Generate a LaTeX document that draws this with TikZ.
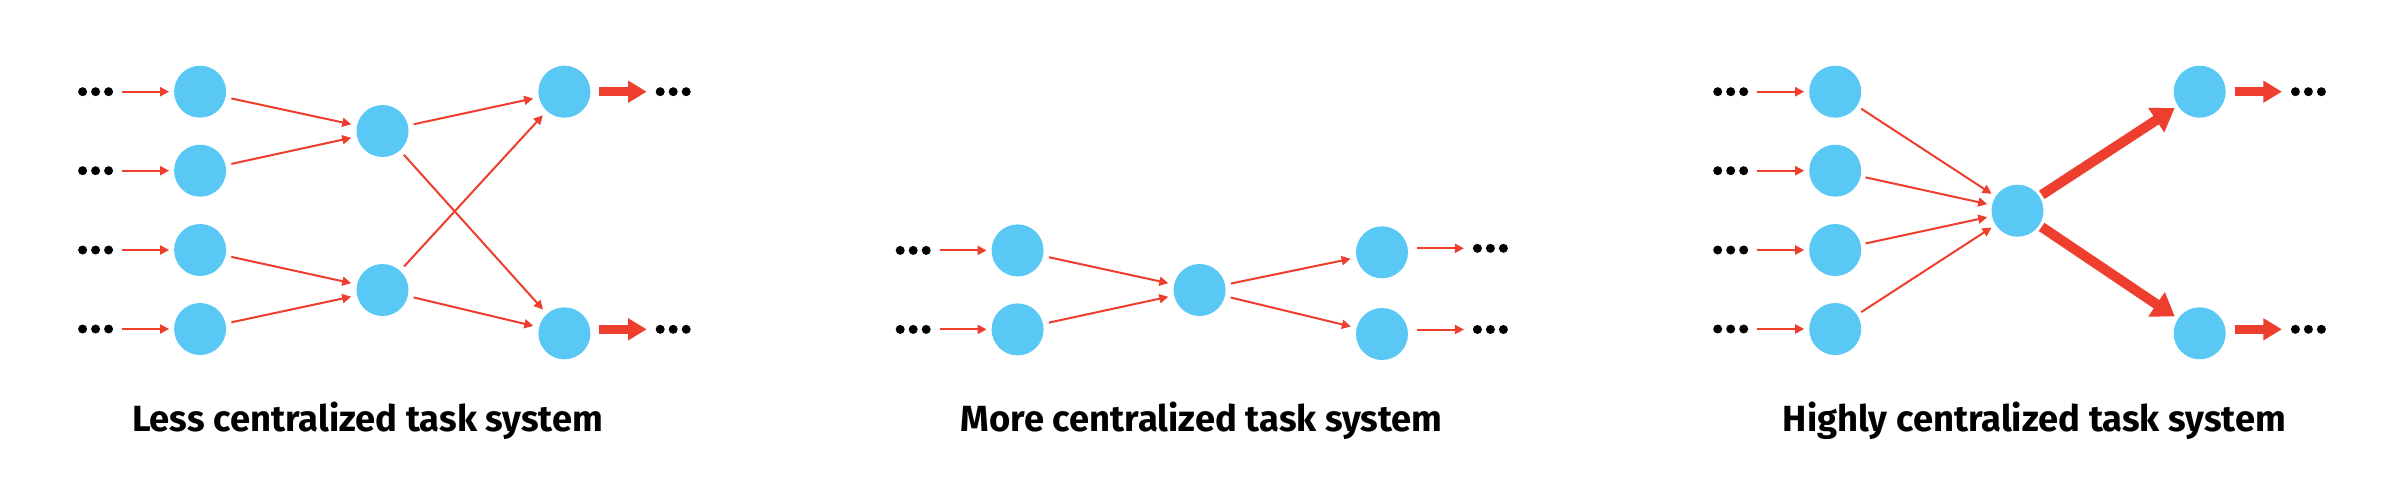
\documentclass[tikz,border=0pt]{standalone}
\usepackage{fontspec}
\setmainfont{Fira Sans}
\usetikzlibrary{arrows.meta,shapes.geometric}
\definecolor{nodeblue}{HTML}{5AC8F5}
\definecolor{edgered}{HTML}{EE3F2E}
\tikzset{
 task/.style={circle, fill=nodeblue, minimum size=26pt, inner sep=0pt, outer sep=0pt},
 dots/.style={minimum width=17.5pt, minimum height=4.5pt, inner sep=0pt, outer sep=0pt,
   path picture={\fill[black] (path picture bounding box.center) circle (2.25pt);
     \fill[black] ([xshift=-6.5pt]path picture bounding box.center) circle (2.25pt);
     \fill[black] ([xshift=6.5pt]path picture bounding box.center) circle (2.25pt);}},
 flow/.style={draw=edgered, line width=1pt, -{Triangle[length=4.5pt,width=4.5pt]}, shorten <=3pt, shorten >=3pt},
 inflow/.style={flow, shorten <=4.5pt, shorten >=2.5pt},
 outflow/.style={flow, shorten <=4.5pt, shorten >=4.5pt},
 bigout/.style={draw=edgered, line width=4.6pt, -{Triangle[length=9.3pt,width=10.5pt]}, shorten <=4.5pt, shorten >=4.5pt},
 bigdiag/.style={draw=edgered, line width=5pt, -{Triangle[length=11pt,width=14pt]}, shorten <=1.5pt, shorten >=2pt},
 title/.style={font=\bfseries\fontsize{18.2}{22}\selectfont, anchor=base, inner sep=0pt},
}
\begin{document}
\begin{tikzpicture}[x=0.5pt,y=-0.5pt]
\useasboundingbox[fill=white] (0,0) rectangle (2400,499);
% ---------- left panel ----------
\foreach \i/\y in {1/91.7,2/170.7,3/250,4/329}{
  \node[dots] (l\i) at (95.6,\y) {};
  \node[task] (a\i) at (200.1,\y) {};
  \draw[inflow] (l\i) -- (a\i);
}
\node[task] (b1) at (382.5,131) {};
\node[task] (b2) at (382.5,290) {};
\node[task] (c1) at (564.4,91.7) {};
\node[task] (c2) at (564.4,333.3) {};
\node[dots] (lo1) at (673.2,91.7) {};
\node[dots] (lo2) at (673.2,329.3) {};
\draw[flow] (a1) -- (b1);
\draw[flow] (a2) -- (b1);
\draw[flow] (a3) -- (b2);
\draw[flow] (a4) -- (b2);
\draw[flow] (b1) -- (c1);
\draw[flow] (b1) -- (c2);
\draw[flow] (b2) -- (c1);
\draw[flow] (b2) -- (c2);
\draw[bigout] (c1) -- (lo1);
\draw[bigout] (lo2 -| c2.east) -- (lo2);
% ---------- middle panel ----------
\node[dots] (ml1) at (913.2,250.4) {};
\node[dots] (ml2) at (913.2,329.4) {};
\node[task] (m1) at (1017.6,250.4) {};
\node[task] (m2) at (1017.6,329.4) {};
\node[task] (mc) at (1199.6,290) {};
\node[task] (mr1) at (1382,252.3) {};
\node[task] (mr2) at (1382,334) {};
\node[dots] (mo1) at (1490.4,248.3) {};
\node[dots] (mo2) at (1490.4,329.5) {};
\draw[inflow] (ml1) -- (m1);
\draw[inflow] (ml2) -- (m2);
\draw[flow] (m1) -- (mc);
\draw[flow] (m2) -- (mc);
\draw[flow] (mc) -- (mr1);
\draw[flow] (mc) -- (mr2);
\draw[outflow] (mo1 -| mr1.east) -- (mo1);
\draw[outflow] (mo2 -| mr2.east) -- (mo2);
% ---------- right panel ----------
\node[task] (rc) at (2017.5,210.7) {};
\foreach \i/\y in {1/91.7,2/170.7,3/250,4/329}{
  \node[dots] (rl\i) at (1730.7,\y) {};
  \node[task] (r\i) at (1835.2,\y) {};
  \draw[inflow] (rl\i) -- (r\i);
  \draw[flow, shorten <=2.5pt, shorten >=2.5pt] (r\i) -- (rc);
}
\node[task] (ro1) at (2199.7,91.7) {};
\node[task] (ro2) at (2199.7,333.3) {};
\node[dots] (rr1) at (2308.4,91.7) {};
\node[dots] (rr2) at (2308.4,329.3) {};
\draw[bigdiag] (rc) -- (ro1);
\draw[bigdiag] (rc) -- (ro2);
\draw[bigout] (ro1) -- (rr1);
\draw[bigout] (rr2 -| ro2.east) -- (rr2);
% ---------- titles ----------
\node[title] (t1) at (367.5,431) {Less centralized task system};
\node[title] (t2) at (1201.7,431) {More centralized task system};
\node[title] (t3) at (2034.3,431) {Highly centralized task system};
\end{tikzpicture}
\end{document}
